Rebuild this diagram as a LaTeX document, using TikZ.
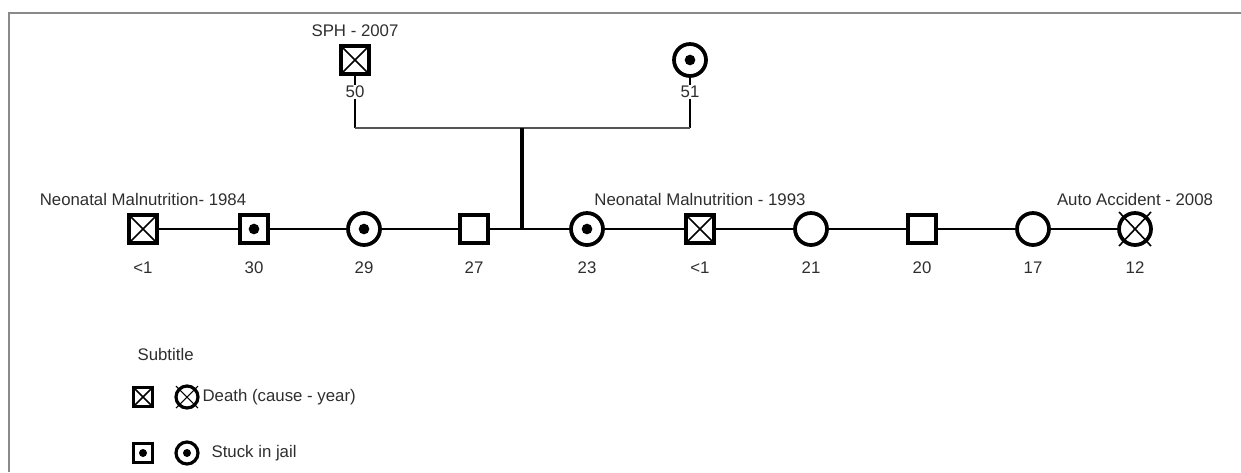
\documentclass[tikz,border=0pt]{standalone}
\usepackage{fontspec}
\setmainfont{Liberation Sans}
\definecolor{txt}{HTML}{2E2E2E}
\definecolor{frame}{HTML}{8A8A8A}
\definecolor{pline}{HTML}{555555}
\begin{document}
\begin{tikzpicture}[x=0.75pt,y=-0.75pt,
  lbl/.style={font=\fontsize{12.6}{15}\selectfont, text=txt, inner sep=1pt},
  male/.style={draw=black, rectangle, line width=2.8pt, minimum size=21pt, inner sep=0pt, fill=white},
  female/.style={draw=black, circle, line width=2.8pt, minimum size=24pt, inner sep=0pt, fill=white},
  smale/.style={male, line width=2.2pt, minimum size=14pt},
  sfemale/.style={female, line width=2.4pt, minimum size=16.5pt},
  jail/.style={path picture={\fill[black] (path picture bounding box.center) circle (4pt);}},
  sjail/.style={path picture={\fill[black] (path picture bounding box.center) circle (3pt);}},
  dead/.style={path picture={\draw[line width=1.1pt] (path picture bounding box.north west) -- (path picture bounding box.south east) (path picture bounding box.north east) -- (path picture bounding box.south west);}},
  conn/.style={draw=black, line width=2pt},
  xline/.style={draw=black, line width=1.2pt},
]
\useasboundingbox (0,0) rectangle (1241,472);
% frame
\draw[frame, line width=1.6pt] (9,472) -- (9,13) -- (1241,13);

% parents
\node[male, dead] (f) at (355,60) {};
\node[female, jail] (m) at (690,60) {};
\node[lbl] (fl) at (355,31) {SPH - 2007};
\coordinate (fj) at (355,128);
\coordinate (mj) at (690,128);
\coordinate (pc) at (522,128);
\coordinate (rc) at (522,228);
\draw[conn] (f) -- (fj);
\draw[conn] (m) -- (mj);
\draw[pline, line width=1.8pt] (fj) -- (mj);
\draw[conn, line width=2.3pt] (pc) -- (rc);
\node[lbl, fill=white] (fa) at (355,92) {50};
\node[lbl, fill=white] (ma) at (690,92) {51};

% children
\node[male, dead] (c1) at (143,229) {};
\node[male, jail] (c2) at (254,229) {};
\node[female, jail] (c3) at (364,229) {};
\node[male] (c4) at (474,229) {};
\node[female, jail] (c5) at (587,229) {};
\node[male, dead] (c6) at (700,229) {};
\node[female] (c7) at (811,229) {};
\node[male] (c8) at (922,229) {};
\node[female] (c9) at (1033,229) {};
\node[female] (c10) at (1135,229) {};
\draw[xline] ([shift={(-16,-17)}]c10.center) -- ([shift={(16,17)}]c10.center);
\draw[xline] ([shift={(16,-17)}]c10.center) -- ([shift={(-16,17)}]c10.center);

\foreach \a/\b in {c1/c2,c2/c3,c3/c4,c4/c5,c5/c6,c6/c7,c7/c8,c8/c9,c9/c10}
  \draw[conn] (\a) -- (\b);

\node[lbl] (l1) at (143,268) {<1};
\node[lbl] (l2) at (254,268) {30};
\node[lbl] (l3) at (364,268) {29};
\node[lbl] (l4) at (474,268) {27};
\node[lbl] (l5) at (587,268) {23};
\node[lbl] (l6) at (700,268) {<1};
\node[lbl] (l7) at (811,268) {21};
\node[lbl] (l8) at (922,268) {20};
\node[lbl] (l9) at (1033,268) {17};
\node[lbl] (l10) at (1135,268) {12};

\node[lbl] (t1) at (143,199) {Neonatal Malnutrition- 1984};
\node[lbl] (t6) at (700,199) {Neonatal Malnutrition - 1993};
\node[lbl] (t10) at (1135,199) {Auto Accident - 2008};

% legend
\node[lbl, anchor=west] (sub) at (136,354) {Subtitle};
\node[smale, dead] (k1) at (143,397) {};
\node[sfemale] (k2) at (187,397) {};
\draw[xline, line width=0.8pt] ([shift={(-11,-11)}]k2.center) -- ([shift={(11,11)}]k2.center);
\draw[xline, line width=0.8pt] ([shift={(11,-11)}]k2.center) -- ([shift={(-11,11)}]k2.center);
\node[lbl, anchor=west] (k1t) at (201,397) {Death (cause - year)};
\node[smale, sjail] (k3) at (143,453) {};
\node[sfemale, sjail] (k4) at (187,453) {};
\node[lbl, anchor=west] (k3t) at (210,453) {Stuck in jail};
\end{tikzpicture}
\end{document}
